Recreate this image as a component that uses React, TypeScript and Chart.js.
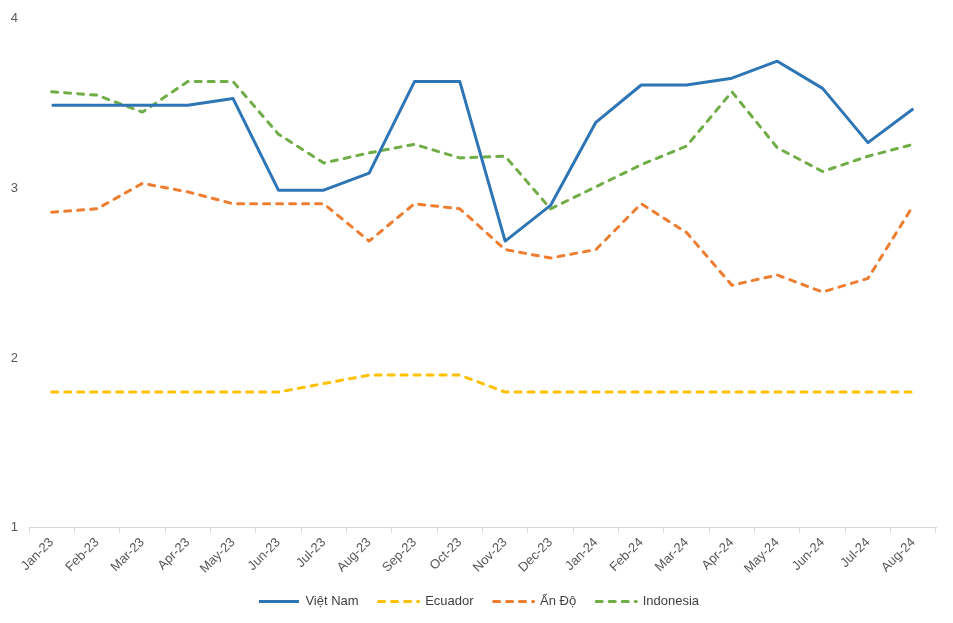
import React, { useEffect, useRef } from "react";
import { Chart, registerables } from "chart.js";

Chart.register(...registerables);

const categories = [
  "Jan-23", "Feb-23", "Mar-23", "Apr-23", "May-23", "Jun-23", "Jul-23", "Aug-23", "Sep-23", "Oct-23",
  "Nov-23", "Dec-23", "Jan-24", "Feb-24", "Mar-24", "Apr-24", "May-24", "Jun-24", "Jul-24", "Aug-24",
];

const vietNam = [3.49, 3.49, 3.49, 3.49, 3.53, 2.99, 2.99, 3.09, 3.63, 3.63, 2.69, 2.9, 3.39, 3.61, 3.61, 3.65, 3.75, 3.59, 3.27, 3.47];
const ecuador = [1.8, 1.8, 1.8, 1.8, 1.8, 1.8, 1.85, 1.9, 1.9, 1.9, 1.8, 1.8, 1.8, 1.8, 1.8, 1.8, 1.8, 1.8, 1.8, 1.8];
const anDo = [2.86, 2.88, 3.03, 2.98, 2.91, 2.91, 2.91, 2.69, 2.91, 2.88, 2.64, 2.59, 2.64, 2.91, 2.74, 2.43, 2.49, 2.39, 2.47, 2.9];
const indonesia = [3.57, 3.55, 3.45, 3.63, 3.63, 3.32, 3.15, 3.21, 3.26, 3.18, 3.19, 2.88, 3.01, 3.14, 3.25, 3.57, 3.24, 3.1, 3.19, 3.26];

const seriesNames = ["Việt Nam", "Ecuador", "Ấn Độ", "Indonesia"];
const yTicks = [1, 2, 3, 4];

const FONT = "'Liberation Sans', Arial, sans-serif";

export default function App() {
  const ref = useRef<HTMLCanvasElement | null>(null);

  useEffect(() => {
    if (!ref.current) return;
    const dash = [6, 7];
    const mk = (label: string, data: number[], color: string, dashed: boolean) => ({
      label,
      data,
      borderColor: color,
      backgroundColor: color,
      borderWidth: 3,
      borderDash: dashed ? dash : [],
      borderCapStyle: dashed ? ("round" as const) : ("butt" as const),
      borderJoinStyle: "round" as const,
      pointRadius: 0,
      pointHoverRadius: 0,
      tension: 0,
      fill: false,
      yAxisID: "y",
    });
    const chart = new Chart(ref.current, {
      type: "line",
      data: {
        labels: categories,
        datasets: [
          mk(seriesNames[0], vietNam, "#2E75B6", false),
          mk(seriesNames[1], ecuador, "#FFC000", true),
          mk(seriesNames[2], anDo, "#ED7D31", true),
          mk(seriesNames[3], indonesia, "#70AD47", true),
        ],
      },
      options: {
        animation: false,
        responsive: false,
        maintainAspectRatio: false,
        layout: { padding: { top: 15, right: 6, left: 11, bottom: 5 } },
        plugins: {
          tooltip: { enabled: false },
          legend: {
            position: "bottom",
            labels: {
              usePointStyle: true,
              pointStyle: "line",
              pointStyleWidth: 40,
              boxWidth: 40,
              boxHeight: 13,
              padding: 20,
              color: "#404040",
              font: { family: FONT, size: 13 },
              generateLabels: (c: any) => {
                const items = Chart.defaults.plugins.legend.labels.generateLabels(c);
                return items.map((it: any) => {
                  const ds: any = c.data.datasets[it.datasetIndex];
                  return {
                    ...it,
                    lineDash: ds.borderDash,
                    lineWidth: 3,
                    strokeStyle: ds.borderColor,
                    fillStyle: ds.borderColor,
                    lineCap: ds.borderCapStyle,
                  };
                });
              },
            },
          },
        },
        scales: {
          x: {
            offset: true,
            afterFit: (scale: any) => {
              scale.height = scale.height - 3.5;
            },
            grid: {
              display: true,
              offset: true,
              drawOnChartArea: false,
              drawTicks: true,
              tickLength: 5,
              color: "#D9D9D9",
            },
            border: { display: true, color: "#D9D9D9", width: 1 },
            ticks: {
              autoSkip: false,
              maxRotation: 45,
              minRotation: 45,
              padding: 2,
              color: "#595959",
              font: { family: FONT, size: 13 },
            },
          },
          y: {
            min: 1,
            max: 4,
            afterBuildTicks: (scale: any) => {
              scale.ticks = yTicks.map((v) => ({ value: v }));
            },
            afterFit: (scale: any) => {
              scale.width = 18;
            },
            grid: { display: false, drawTicks: false },
            border: { display: false },
            ticks: {
              padding: 11,
              color: "#595959",
              font: { family: FONT, size: 13 },
            },
          },
          y2: {
            position: "right",
            min: 1,
            max: 4,
            afterFit: (scale: any) => {
              scale.width = 11;
            },
            grid: { display: false, drawTicks: false },
            border: { display: false },
            ticks: { display: false },
          },
        },
      },
    });
    return () => chart.destroy();
  }, []);

  return (
    <div style={{ position: "fixed", left: 0, top: 0, width: 953, height: 623, background: "#fff" }}>
      <canvas ref={ref} width={953} height={623} style={{ width: 953, height: 623 }} />
    </div>
  );
}
